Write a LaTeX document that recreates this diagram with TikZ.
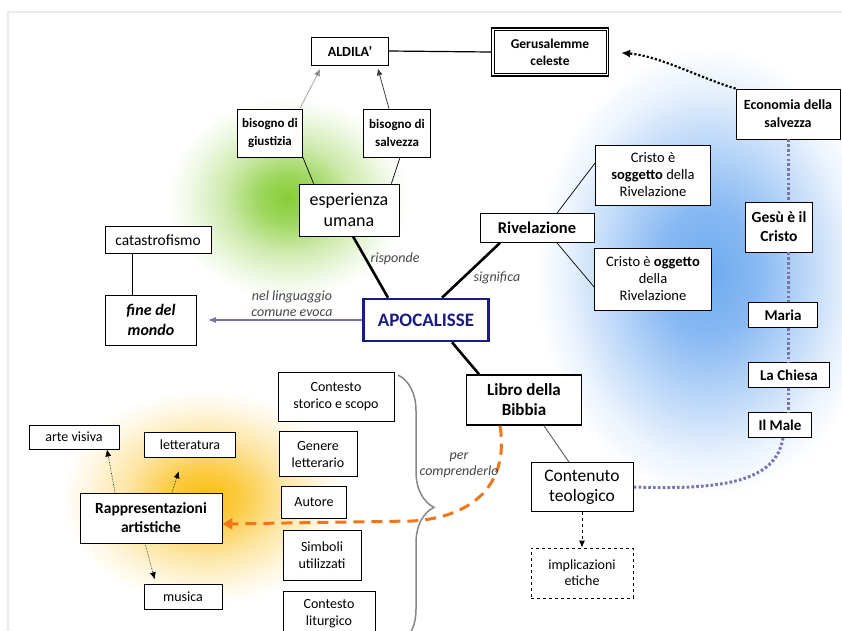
\documentclass[tikz,border=0pt]{standalone}
\usepackage{fontspec}
\setmainfont{Carlito}
\usetikzlibrary{arrows.meta,decorations.pathreplacing}

\definecolor{apoblue}{RGB}{28,28,128}
\definecolor{evokegray}{RGB}{115,115,165}
\definecolor{chainblue}{RGB}{118,118,172}
\definecolor{readorange}{RGB}{240,118,28}
\definecolor{bracegray}{RGB}{135,135,135}
\definecolor{labelgray}{RGB}{70,70,70}
\definecolor{greenglow}{RGB}{135,205,55}
\definecolor{blueglow}{RGB}{110,170,240}
\definecolor{orangeglow}{RGB}{250,190,20}

\pgfdeclareradialshading{greenhalo}{\pgfpoint{0bp}{0bp}}{color(0bp)=(greenglow); color(6bp)=(greenglow!80!white); color(13bp)=(greenglow!40!white); color(20bp)=(greenglow!12!white); color(24bp)=(white); color(50bp)=(white)}
\pgfdeclareradialshading{bluehalo}{\pgfpoint{0bp}{0bp}}{color(0bp)=(blueglow); color(7bp)=(blueglow!82!white); color(14bp)=(blueglow!45!white); color(20bp)=(blueglow!14!white); color(24bp)=(white); color(50bp)=(white)}
\pgfdeclareradialshading{orangehalo}{\pgfpoint{0bp}{0bp}}{color(0bp)=(orangeglow); color(6bp)=(orangeglow!80!white); color(13bp)=(orangeglow!40!white); color(20bp)=(orangeglow!12!white); color(24bp)=(white); color(50bp)=(white)}

\tikzset{
  concept/.style={draw, fill=white, line width=0.8pt, align=center, inner sep=2pt,
    font=\fontsize{14}{17}\selectfont},
  keyconcept/.style={concept, font=\fontsize{14}{17}\selectfont\bfseries},
  smallconcept/.style={concept, font=\fontsize{14}{16}\selectfont},
  linklabel/.style={font=\fontsize{14}{16}\selectfont\itshape, text=labelgray, align=center, inner sep=1pt},
  thinlink/.style={line width=0.7pt},
  strongline/.style={line width=2.6pt},
  toplink/.style={line width=0.8pt, -{Latex[length=7pt,width=6pt]}},
  artlink/.style={line width=0.6pt, densely dotted, -{Latex[length=7pt,width=6pt]}},
  chainlink/.style={chainblue, line width=3pt, dash pattern=on 2.6pt off 2.2pt},
}

\begin{document}
\begin{tikzpicture}[x=1pt,y=-1pt]
\useasboundingbox (0,0) rectangle (842,630);
% page frame
\draw[black!8, line width=2.5pt] (8,640) -- (8,12) -- (850,12);
% halos
\shade[shading=greenhalo] (288,198) ellipse (125 and 105);
\shade[shading=bluehalo] (708,272) ellipse (180 and 235);
\shade[shading=orangehalo] (205,497) ellipse (150 and 112);

% top
\node[keyconcept] (aldila) at (350,51) [minimum width=77pt, minimum height=28pt] {ALDILA’};
\node[keyconcept, line width=1.3pt, minimum width=117pt, minimum height=48pt, font=\fontsize{13.5}{17}\selectfont\bfseries] (jer) at (550,52) {Gerusalemme\\celeste};
\draw[line width=0.7pt] ([shift={(3pt,-3pt)}]jer.north west) rectangle ([shift={(-3pt,3pt)}]jer.south east);
\node[keyconcept, minimum width=104pt, minimum height=50pt, font=\fontsize{14}{18}\selectfont\bfseries] (econ) at (788,114) {Economia della\\salvezza};
\node[keyconcept, minimum width=65pt, minimum height=48pt, font=\fontsize{13}{18}\selectfont\bfseries] (giust) at (270,133) {bisogno di\\giustizia};
\node[keyconcept, minimum width=67pt, minimum height=48pt, font=\fontsize{13}{18}\selectfont\bfseries] (salv) at (397,133) {bisogno di\\salvezza};
\node[concept, minimum width=100pt, minimum height=52pt, font=\fontsize{18}{21}\selectfont] (esp) at (349,210) {esperienza\\umana};

% left
\node[concept, minimum width=106pt, minimum height=27pt, font=\fontsize{15.5}{18}\selectfont] (catas) at (158,240) {catastrofismo};
\node[concept, minimum width=91pt, minimum height=50pt, font=\fontsize{16}{20}\selectfont\bfseries\itshape] (fine) at (151,320) {fine del\\mondo};

% centre
\node[concept, draw=apoblue, line width=2.6pt, text=apoblue, minimum width=125pt, minimum height=42pt, font=\fontsize{19}{22}\selectfont\bfseries] (apo) at (426,320) {APOCALISSE};
\node[keyconcept, minimum width=114pt, minimum height=29pt, font=\fontsize{16.5}{19}\selectfont\bfseries] (riv) at (537,228) {Rivelazione};
\node[concept, minimum width=115pt, minimum height=60pt, font=\fontsize{14.5}{17}\selectfont] (sogg) at (653,175) {Cristo è\\\textbf{soggetto} della\\Rivelazione};
\node[concept, minimum width=117pt, minimum height=62pt, font=\fontsize{14.5}{17}\selectfont] (ogg) at (653,279) {Cristo è \textbf{oggetto}\\della\\Rivelazione};
\node[keyconcept, line width=1.6pt, minimum width=115pt, minimum height=50pt, font=\fontsize{17}{20}\selectfont\bfseries] (libro) at (524,400) {Libro della\\Bibbia};
\node[concept, minimum width=102pt, minimum height=49pt, font=\fontsize{17.5}{20}\selectfont] (cont) at (582,487) {Contenuto\\teologico};
\node[smallconcept, dashed, minimum width=102pt, minimum height=50pt] (impl) at (582,573) {implicazioni\\etiche};

% right column
\node[keyconcept, minimum width=67pt, minimum height=50pt, font=\fontsize{15.5}{19}\selectfont\bfseries] (gesu) at (779,227) {Gesù è il\\Cristo};
\node[keyconcept, minimum width=69pt, minimum height=25pt, font=\fontsize{15}{18}\selectfont\bfseries] (maria) at (783,315) {Maria};
\node[keyconcept, minimum width=81pt, minimum height=25pt, font=\fontsize{15}{18}\selectfont\bfseries] (chiesa) at (789,375) {La Chiesa};
\node[keyconcept, minimum width=63pt, minimum height=25pt, font=\fontsize{15}{18}\selectfont\bfseries] (male) at (780,425) {Il Male};

% reading the book
\node[concept, minimum width=116pt, minimum height=49pt] (storico) at (336,397) {Contesto\\storico e scopo};
\node[concept, minimum width=78pt, minimum height=45pt] (genere) at (318,454) {Genere\\letterario};
\node[concept, minimum width=65pt, minimum height=32pt] (autore) at (314,502) {Autore};
\node[concept, minimum width=78pt, minimum height=50pt] (simboli) at (322,555) {Simboli\\utilizzati};
\node[concept, minimum width=92pt, minimum height=46pt] (liturgico) at (329,614) {Contesto\\liturgico};
\draw[bracegray, line width=1.5pt, decorate, decoration={brace, amplitude=36pt, aspect=0.49}] (398,375) -- (398,645);

% art
\node[keyconcept, minimum width=142pt, minimum height=50pt, font=\fontsize{15.5}{19}\selectfont\bfseries] (rappr) at (151,518) {Rappresentazioni\\artistiche};
\node[smallconcept, minimum width=90pt, minimum height=24pt] (arte) at (74,437) {arte visiva};
\node[smallconcept, minimum width=91pt, minimum height=25pt] (lett) at (190,445) {letteratura};
\node[smallconcept, minimum width=78pt, minimum height=25pt] (musica) at (183,597) {musica};

% connectors
\draw[thinlink, line width=1.2pt] (aldila.east) -- (jer.west);
\draw[toplink, black!45, line width=0.6pt, shorten >=4pt] ([xshift=-3pt]giust.north east) -- ([xshift=-28pt]aldila.south);
\draw[toplink, black!75, shorten >=3pt] ([xshift=-8pt]salv.north) -- ([xshift=27pt]aldila.south);
\draw[thinlink] (giust.south east) -- ([xshift=15pt]esp.north west);
\draw[thinlink] ([xshift=3pt]salv.south) -- ([xshift=-8pt]esp.north east);
\draw[black, line width=2.2pt, dotted, -{Latex[length=9pt,width=8pt]}, shorten >=10pt] (econ.north west) .. controls (700,78) and (660,56) .. ([xshift=2pt]jer.east);

\draw[strongline] ([xshift=4pt]esp.south) -- ([xshift=-38pt]apo.north);
\node[linklabel] (lrisp) at (395,259) {risponde};
\draw[strongline] ([xshift=16pt]apo.north) -- ([xshift=-37pt]riv.south);
\node[linklabel] (lsign) at (497,278) {significa};
\draw[strongline] ([xshift=26pt]apo.south) -- ([xshift=-45pt]libro.north);
\draw[thinlink] ([xshift=20pt]riv.north) -- ([yshift=12pt]sogg.west);
\draw[thinlink] ([xshift=20pt]riv.south) -- ([yshift=-8pt]ogg.west);

\draw[evokegray, line width=1.1pt, -{Latex[length=8pt,width=6pt]}, shorten >=11pt] (apo.west) -- (fine.east);
\node[linklabel] (levoca) at (292,304) {nel linguaggio\\comune evoca};
\draw[thinlink] ([xshift=-19pt]fine.north) -- ([xshift=-19pt]fine.north |- catas.south);

\draw[black!60, line width=1pt] ([xshift=20pt]libro.south) -- ([xshift=-13pt]cont.north);
\draw[line width=0.8pt, dashed, -{Latex[length=7pt,width=6pt]}] (cont.south) -- (impl.north);

\draw[chainlink] (econ.south) -- (econ.south |- gesu.north);
\draw[chainlink] (econ.south |- gesu.south) -- (econ.south |- maria.north);
\draw[chainlink] (econ.south |- maria.south) -- (econ.south |- chiesa.north);
\draw[chainlink] (econ.south |- chiesa.south) -- (econ.south |- male.north);
\draw[chainlink] ([xshift=3pt]male.south) .. controls (776,482) and (722,490) .. (cont.east);

\draw[readorange, line width=3pt, dash pattern=on 11pt off 7pt, -{Triangle[length=10pt,width=11pt]}] ([xshift=-24pt]libro.south) .. controls (510,490) and (466,518) .. (412,521) -- ([yshift=-6pt]rappr.east);
\node[linklabel] (lcompr) at (459,465) {per\\comprenderlo};

\draw[artlink] ([xshift=-36pt]rappr.north) -- ([xshift=33pt]arte.south);
\draw[artlink, shorten >=14pt] ([xshift=21pt]rappr.north) -- ([xshift=-7pt]lett.south);
\draw[artlink, shorten >=5pt] ([xshift=-6pt]rappr.south) -- ([xshift=-27pt]musica.north);
\end{tikzpicture}
\end{document}
